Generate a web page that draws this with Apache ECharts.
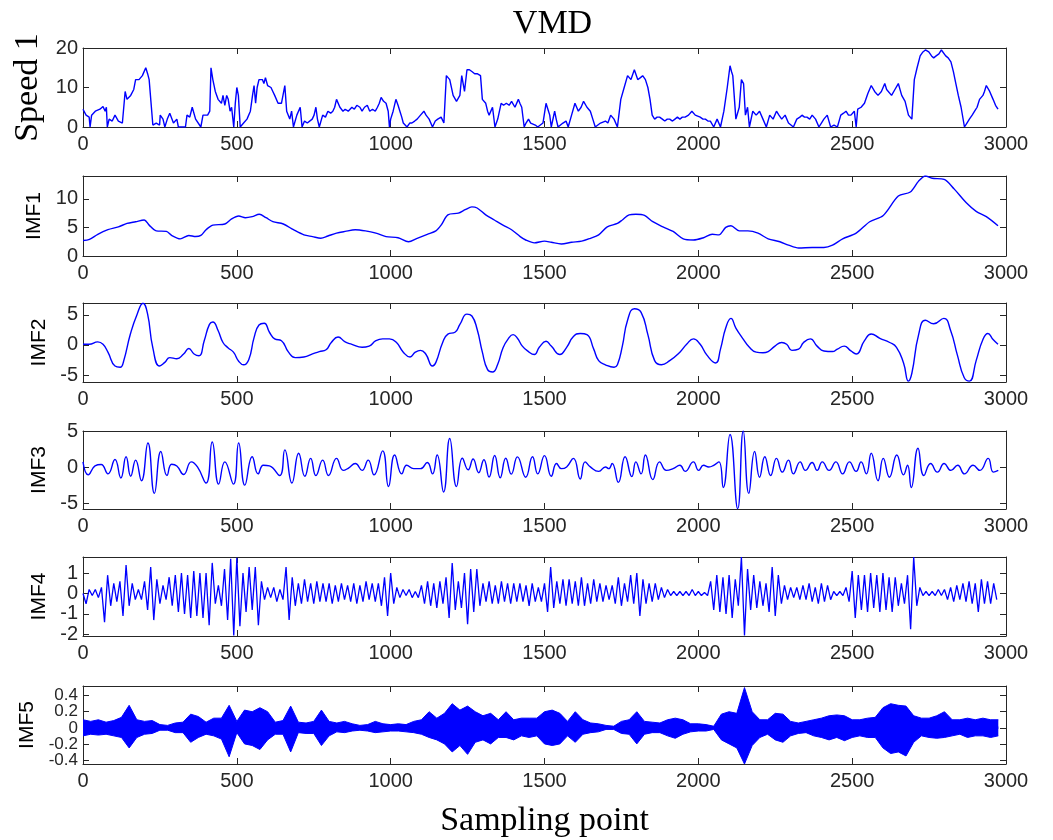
<!DOCTYPE html>
<html><head><meta charset="utf-8"><title>VMD</title>
<script src="https://cdn.jsdelivr.net/npm/echarts@6/dist/echarts.min.js"></script>
<style>html,body{margin:0;padding:0;background:#fff}#chart{width:1053px;height:840px}</style>
</head><body><div id="chart"></div>
<script>
// ---------- data ----------
const xTicks = [0, 500, 1000, 1500, 2000, 2500, 3000];
const speedTicks = [0, 10, 20];
const imf1Ticks = [0, 5, 10];
const imf2Ticks = [-5, 0, 5];
const imf3Ticks = [-5, 0, 5];
const imf4Ticks = [-2, -1, 0, 1];
const imf5Ticks = [-0.4, -0.2, 0, 0.2, 0.4];

const speed1 = [[0,4.5],[10,3],[20,2.5],[23,0],[28,3],[40,4],[55,4.5],[65,5.2],[72,4],[76,5],[79,0],[85,2],[95,1.5],[104,3],[115,1.5],[128,1],[137,9],[143,7],[155,8],[165,9.5],[171,12],[182,12],[193,13],[204,15],[210,13.5],[215,12],[221,12],[227,0.5],[238,1],[249,0.5],[251,3],[260,2],[266,0],[274,2],[282,3.5],[294,1],[305,2],[310,0],[333,0],[338,3],[347,2.5],[355,5],[366,2],[383,0],[390,3],[405,3],[412,4],[416,15],[422,12],[430,9],[439,7],[450,6],[455,8],[461,5.5],[467,8],[472,7],[478,4],[483,5],[490,0],[495,6],[500,10],[505,8],[511,0],[522,1],[533,2],[544,4],[551,8],[556,10.5],[561,6],[566,10],[572,12],[583,12],[588,11],[593,12.5],[600,10.5],[611,10],[617,9],[623,8],[634,6],[645,6],[650,8],[656,10.5],[662,4],[672,2],[678,4],[684,0],[695,3],[706,5],[712,0],[720,1.5],[729,1],[745,2],[751,3],[757,5],[762,2],[768,0],[779,3],[788,2.5],[796,4],[805,3.5],[812,4],[818,5],[824,7],[835,5],[845,4],[852,4.5],[862,4],[874,5],[882,4.5],[890,5.5],[900,5],[907,4],[915,5],[924,5.5],[932,4],[941,4.5],[950,4],[957,5],[963,6],[969,7.5],[977,6.5],[985,6],[992,4],[996,0],[1000,2],[1008,4],[1017,7],[1024,5.5],[1030,4],[1036,2.5],[1041,1],[1053,0],[1062,1],[1069,1],[1078,1.5],[1086,2],[1097,3],[1108,4],[1115,3],[1125,2],[1136,0],[1145,1.5],[1153,2],[1164,2.5],[1173,1],[1181,13],[1192,12],[1203,8],[1214,6.5],[1225,8],[1231,13],[1240,9],[1248,14.5],[1256,14.5],[1265,14],[1273,13.5],[1281,13.5],[1292,13],[1298,7],[1309,6],[1315,4],[1320,3],[1331,5],[1339,0],[1348,2],[1359,6],[1367,5.5],[1376,6],[1385,5.5],[1393,6.5],[1404,5],[1415,7],[1420,6],[1426,5],[1434,0],[1440,1],[1448,2],[1455,1],[1461,1],[1470,0.5],[1478,0],[1495,1],[1505,6],[1511,4.5],[1517,3],[1522,0],[1533,4],[1538,2],[1544,0],[1560,1],[1570,1.5],[1577,0],[1588,3],[1599,6],[1610,4],[1619,5],[1627,6.5],[1638,5],[1649,4],[1657,2],[1665,0],[1682,1],[1698,1.5],[1706,1],[1715,3],[1726,2],[1737,0],[1748,7],[1759,10],[1770,13],[1781,12],[1792,14.5],[1803,12],[1812,12.5],[1819,13],[1828,12],[1836,10],[1843,7],[1850,3],[1858,2],[1866,2.5],[1874,2.5],[1883,2],[1891,1.5],[1899,2],[1907,2],[1916,1.5],[1924,2],[1932,2.5],[1940,2],[1948,2.5],[1957,2.5],[1968,3],[1979,4],[1990,3],[2006,2.5],[2015,2],[2023,2],[2031,1.5],[2039,1.5],[2050,0],[2061,2],[2072,0],[2083,4],[2094,10],[2103,15.5],[2108,14],[2112,13],[2122,2],[2133,5],[2140,12],[2147,11],[2153,3],[2160,5],[2166,0],[2177,4],[2188,3],[2199,4],[2210,2],[2221,0],[2232,3],[2243,2],[2254,4],[2262,3],[2271,2],[2282,3],[2293,1],[2309,0],[2320,2],[2330,2.5],[2337,3],[2345,2.5],[2353,2.5],[2362,2],[2370,3],[2381,2],[2392,0],[2400,1],[2408,2],[2419,3],[2430,0],[2441,0.5],[2452,0],[2463,3],[2472,3.5],[2480,4],[2488,3],[2496,3],[2507,4],[2513,0],[2518,4.5],[2529,5],[2540,6],[2551,8.5],[2562,10.5],[2573,9],[2584,8],[2595,9],[2606,11],[2612,9.5],[2617,9],[2628,8],[2639,9.5],[2650,11],[2661,8],[2672,6.5],[2683,3],[2694,2],[2702,12],[2711,15],[2721,18],[2730,19],[2738,19.5],[2749,19],[2758,18],[2765,17.5],[2773,18],[2782,18.5],[2790,19.5],[2796,20],[2804,18],[2812,17.5],[2821,16.5],[2829,14],[2837,11],[2845,8],[2854,5],[2865,0],[2873,1],[2881,2],[2890,3],[2898,4],[2906,5],[2914,7],[2925,8],[2930,9],[2936,10.5],[2947,9],[2958,7],[2966,5.5],[2974,4.5]];

const imf1 = [[0,2.7],[21,2.9],[48,3.8],[81,4.6],[115,5.1],[143,5.7],[171,6.0],[199,6.3],[215,5.4],[238,4.4],[271,4.3],[288,3.6],[316,3.0],[344,3.6],[366,3.4],[383,3.6],[400,4.6],[422,5.4],[461,5.6],[483,6.5],[506,7.0],[528,6.7],[550,6.9],[573,7.3],[595,6.7],[617,6.0],[651,5.6],[684,4.6],[718,3.7],[746,3.4],[773,3.1],[796,3.5],[824,4.0],[852,4.3],[885,4.6],[918,4.4],[952,4.0],[985,3.4],[1024,3.2],[1058,2.5],[1086,3.1],[1119,3.8],[1147,4.4],[1164,5.4],[1186,7.2],[1220,7.5],[1242,8.1],[1264,8.6],[1281,8.4],[1309,7.2],[1337,6.3],[1365,5.4],[1393,4.6],[1421,3.4],[1439,2.8],[1467,2.3],[1500,2.6],[1522,2.4],[1555,2.1],[1588,2.4],[1621,2.6],[1649,3.1],[1676,3.7],[1704,5.1],[1737,5.7],[1753,6.3],[1775,7.2],[1797,7.3],[1825,7.1],[1852,6.0],[1885,5.1],[1918,4.3],[1951,3.0],[1984,2.8],[2017,3.2],[2045,3.8],[2067,3.7],[2089,5.0],[2106,5.3],[2133,4.4],[2161,4.4],[2194,4.0],[2227,3.0],[2265,2.5],[2293,1.9],[2326,1.4],[2370,1.5],[2408,1.5],[2436,1.9],[2469,3.0],[2513,4.0],[2557,6.0],[2601,7.1],[2650,10.5],[2689,11.2],[2716,13.1],[2738,14.0],[2760,13.6],[2799,13.4],[2832,11.7],[2871,9.3],[2903,7.8],[2936,6.9],[2974,5.3]];

const imf2 = [[0,0.1],[20,0.1],[48,0.5],[65,0.1],[81,-1.2],[104,-3.5],[121,-3.7],[132,-2.7],[154,1.8],[176,5.1],[195,6.9],[210,5.1],[227,-0.5],[249,-3.5],[266,-2.9],[282,-2.1],[305,-2.3],[327,-1.5],[344,-0.6],[361,-1.5],[377,-1.8],[394,0.7],[411,3.4],[422,3.8],[439,2.4],[455,0.4],[472,-0.5],[489,-1.2],[506,-2.7],[522,-3.3],[539,-2.4],[556,1.2],[572,3.3],[589,3.6],[606,2.1],[623,1.0],[645,0.7],[668,-1.2],[690,-2.1],[718,-2.0],[746,-1.5],[768,-1.1],[790,-0.8],[807,0.4],[829,1.3],[852,0.5],[874,0.1],[907,-0.4],[930,-0.2],[952,0.7],[974,1.0],[996,1.0],[1019,0.4],[1041,-1.2],[1063,-2.0],[1080,-1.2],[1097,-0.9],[1114,-1.5],[1136,-3.5],[1147,-2.9],[1169,0.4],[1186,1.8],[1209,2.1],[1225,3.4],[1248,5.1],[1264,4.8],[1281,2.6],[1298,-1.2],[1315,-4.1],[1331,-4.5],[1348,-3.2],[1365,-0.5],[1382,1.0],[1398,1.7],[1412,1.1],[1428,-0.2],[1445,-1.0],[1467,-1.6],[1483,-0.4],[1505,0.6],[1522,-0.2],[1550,-1.6],[1572,-0.4],[1594,1.4],[1616,1.9],[1638,1.7],[1660,-0.7],[1676,-2.6],[1698,-3.3],[1726,-3.7],[1737,-3.3],[1753,-0.2],[1770,4.1],[1792,6.0],[1814,5.4],[1836,1.7],[1858,-2.6],[1880,-3.3],[1907,-2.6],[1940,-1.2],[1962,0.1],[1984,1.0],[2006,0.1],[2028,-1.7],[2056,-3.0],[2072,-0.7],[2089,2.8],[2106,4.4],[2122,2.8],[2144,1.1],[2166,-0.4],[2188,-1.2],[2210,-1.3],[2227,-1.1],[2249,-0.2],[2271,0.4],[2287,0.1],[2304,-0.9],[2326,-0.7],[2342,0.4],[2364,1.0],[2386,-0.2],[2408,-1.0],[2436,-1.1],[2452,-0.7],[2474,-0.2],[2496,-1.0],[2513,-1.5],[2540,0.7],[2562,1.8],[2590,1.1],[2622,0.4],[2644,-0.4],[2667,-3.0],[2683,-6.0],[2694,-4.7],[2716,1.7],[2738,4.1],[2765,3.5],[2798,4.4],[2820,2.4],[2842,-1.7],[2864,-5.4],[2881,-6.0],[2903,-2.6],[2925,0.9],[2941,1.9],[2958,0.9],[2974,0.1]];

const imf3 = [[0,0.8],[17,-1.0],[39,0.24],[59,0.43],[81,-0.86],[104,1.14],[123,-1.43],[140,1.52],[155,-1.19],[171,1.05],[190,-1.81],[211,3.43],[232,-3.57],[253,2.24],[273,-1.1],[288,0.48],[305,0.24],[327,-0.95],[352,0.81],[372,0.1],[400,-2.14],[420,3.57],[441,-2.29],[461,0.81],[489,-2.29],[506,3.43],[526,-2.43],[550,1.52],[569,-0.86],[586,0.33],[606,0.24],[639,-1.1],[656,2.48],[679,-2.14],[701,2.0],[721,-1.19],[740,1.29],[757,-1.1],[779,1.05],[798,-1.1],[824,1.29],[846,-0.38],[863,-0.05],[885,0.57],[907,-0.38],[927,1.05],[946,-1.0],[974,2.33],[993,-2.62],[1013,1.76],[1036,-0.86],[1052,0.33],[1075,-0.14],[1097,-0.14],[1119,0.71],[1136,-0.86],[1151,1.76],[1172,-3.38],[1192,4.05],[1214,-2.62],[1233,1.3],[1252,-0.3],[1268,1.2],[1286,-0.7],[1303,1.1],[1320,-1.3],[1338,1.7],[1356,-1.4],[1374,1.3],[1392,-0.9],[1412,1.5],[1439,-1.33],[1461,1.52],[1478,-0.86],[1500,1.67],[1522,-1.19],[1539,0.57],[1555,-0.14],[1572,0.1],[1594,1.29],[1616,-1.57],[1632,0.81],[1649,0.1],[1676,-0.52],[1698,0.1],[1709,-0.14],[1720,0.57],[1740,-2.05],[1762,1.52],[1784,-1.24],[1797,0.81],[1814,-0.86],[1828,1.76],[1852,-1.67],[1874,0.81],[1896,-0.38],[1918,-0.14],[1940,0.33],[1957,-0.52],[1984,0.81],[2001,-0.38],[2017,0.33],[2034,0.1],[2050,0.33],[2067,0.81],[2081,-2.76],[2103,4.62],[2128,-5.7],[2146,5.1],[2164,-3.57],[2183,2.24],[2199,-1.33],[2216,1.52],[2235,-1.1],[2254,1.29],[2273,-0.62],[2293,1.05],[2309,-0.86],[2331,0.81],[2348,-0.38],[2370,0.71],[2386,-0.38],[2403,0.81],[2425,-0.38],[2447,0.81],[2469,-0.86],[2491,0.81],[2513,-0.52],[2529,0.81],[2546,-0.86],[2562,2.0],[2584,-1.81],[2601,1.29],[2621,-1.33],[2645,1.76],[2667,-1.0],[2680,0.33],[2692,-2.76],[2714,2.71],[2733,-1.1],[2755,0.57],[2777,-0.62],[2799,0.57],[2821,-0.38],[2843,0.33],[2865,-0.86],[2893,0.33],[2915,-0.38],[2942,1.29],[2959,-0.62],[2975,-0.38]];

// IMF4: one value every imf4Step samples, starting at sample 0
const imf4Step = 10;
const imf4 = [
 0,-0.5,0.2,-0.1,0.2,-0.2,0.3,-1.4,0.9,-0.6,
 0.5,-0.4,0.6,-1.1,1.4,-0.6,0.5,-0.3,0.2,-0.3,
 0.6,-0.8,1.3,-1.3,0.7,-0.5,0.4,-0.3,0.8,-0.6,
 0.9,-0.9,1.0,-1.0,0.9,-1.2,1.1,-1.1,1.0,-1.2,
 1.0,-1.55,1.5,-0.5,0.4,-0.6,1.2,-1.3,1.7,-2.05,
 1.75,-1.6,1.0,-0.9,1.3,-0.8,1.3,-1.55,0.6,-0.3,
 0.3,-0.2,0.3,-0.4,0.2,-0.3,1.3,-1.3,0.8,-0.6,
 0.5,-0.5,0.7,-0.4,0.5,-0.5,0.6,-0.4,0.5,-0.4,
 0.5,-0.5,0.4,-0.4,0.5,-0.3,0.4,-0.4,0.5,-0.5,
 0.4,-0.4,0.6,-0.3,0.5,-0.4,0.5,-0.6,0.8,-1.1,
 1.0,-0.5,0.3,-0.2,0.2,-0.1,0.2,-0.2,0.1,-0.2,
 0.4,-0.5,0.6,-0.6,0.5,-0.7,0.6,-0.5,0.8,-1.2,
 1.5,-0.8,0.6,-0.7,1.0,-1.5,1.2,-0.9,1.2,-0.6,
 0.5,-0.4,0.6,-0.5,0.4,-0.5,0.6,-0.4,0.5,-0.5,
 0.5,-0.4,0.5,-0.4,0.4,-0.6,0.5,-0.4,0.3,-0.4,
 0.5,-0.9,1.3,-0.7,0.6,-0.5,0.7,-0.6,0.7,-0.5,
 0.6,-0.6,0.8,-0.6,0.5,-0.5,0.7,-0.4,0.5,-0.4,
 0.4,-0.3,0.4,-0.5,0.8,-0.6,0.5,-0.4,0.9,-0.5,
 1.0,-1.1,0.7,-0.5,0.5,-0.4,0.5,-0.3,0.3,-0.2,
 0.2,-0.1,0.1,-0.1,0.1,-0.1,0.1,-0.1,0.2,-0.1,
 0.1,-0.1,0.05,-0.1,0.6,-0.8,0.9,-0.9,0.8,-1.0,
 0.9,-1.2,0.7,-0.6,1.79,-2.05,1.2,-0.8,0.9,-0.7,
 0.6,-0.6,0.5,-0.9,1.3,-1.1,0.9,-0.5,0.4,-0.3,
 0.3,-0.2,0.3,-0.3,0.4,-0.3,0.5,-0.4,0.3,-0.5,
 0.5,-0.4,0.4,-0.3,0.1,-0.1,0.1,-0.1,0.3,-0.4,
 1.1,-1.2,0.9,-0.8,0.9,-0.9,1.0,-0.7,0.9,-0.9,
 1.0,-0.8,0.8,-0.9,0.8,-0.6,0.5,-0.5,0.9,-1.75,
 1.79,-0.6,0.3,-0.1,0.1,-0.1,0.1,-0.1,0.2,-0.1,
 0.2,-0.3,0.3,-0.4,0.4,-0.3,0.5,-0.4,0.6,-0.5,
 0.5,-0.9,0.7,-0.5,0.6,-0.5,0.5,-0.3];

// IMF5: upper and lower envelope, one value every imf5Step samples
const imf5Step = 25;
const imf5Upper = [
 0.1,0.08,0.1,0.07,0.09,0.13,0.28,0.1,0.08,0.09,0.04,0.03,
 0.06,0.07,0.17,0.14,0.07,0.12,0.12,0.28,0.08,0.22,0.2,0.25,
 0.2,0.07,0.09,0.27,0.07,0.06,0.08,0.22,0.08,0.06,0.08,0.05,
 0.03,0.04,0.08,0.05,0.04,0.05,0.04,0.08,0.1,0.2,0.12,0.18,
 0.3,0.22,0.27,0.2,0.15,0.18,0.1,0.2,0.1,0.12,0.12,0.12,
 0.2,0.22,0.18,0.08,0.2,0.1,0.06,0.05,0.03,0.02,0.08,0.1,
 0.2,0.08,0.07,0.06,0.1,0.12,0.1,0.05,0.05,0.04,0.02,0.17,
 0.2,0.18,0.5,0.2,0.1,0.1,0.18,0.17,0.08,0.06,0.08,0.1,
 0.12,0.15,0.16,0.15,0.1,0.1,0.12,0.13,0.25,0.3,0.28,0.27,
 0.15,0.12,0.12,0.15,0.2,0.1,0.1,0.12,0.1,0.12,0.1,0.1];
const imf5Lower = [
 -0.1,-0.08,-0.09,-0.08,-0.1,-0.12,-0.25,-0.12,-0.08,-0.07,-0.03,-0.03,
 -0.06,-0.06,-0.18,-0.12,-0.08,-0.1,-0.14,-0.36,-0.06,-0.2,-0.22,-0.27,
 -0.15,-0.08,-0.08,-0.3,-0.06,-0.07,-0.07,-0.22,-0.1,-0.05,-0.06,-0.04,
 -0.03,-0.04,-0.06,-0.05,-0.04,-0.04,-0.05,-0.06,-0.08,-0.12,-0.15,-0.2,
 -0.3,-0.22,-0.33,-0.18,-0.15,-0.2,-0.12,-0.12,-0.15,-0.1,-0.12,-0.1,
 -0.2,-0.22,-0.2,-0.1,-0.18,-0.08,-0.06,-0.05,-0.02,-0.02,-0.07,-0.08,
 -0.2,-0.08,-0.06,-0.06,-0.1,-0.13,-0.08,-0.05,-0.04,-0.04,-0.02,-0.15,
 -0.2,-0.25,-0.45,-0.22,-0.12,-0.08,-0.15,-0.18,-0.1,-0.07,-0.06,-0.1,
 -0.12,-0.15,-0.12,-0.16,-0.12,-0.1,-0.12,-0.12,-0.25,-0.32,-0.3,-0.35,
 -0.18,-0.1,-0.12,-0.13,-0.12,-0.1,-0.08,-0.12,-0.1,-0.1,-0.12,-0.1];

// ---------- layout & style ----------
const SANS = '"Liberation Sans", Arial, sans-serif';
const SERIF = '"Liberation Serif", "Times New Roman", serif';
const AX = '#262626';
const BLUE = '#0000ff';
const GRID_LEFT = 83, GRID_RIGHT = 47;
const TICK_FONT = 20;
const panels = [
  {name:'Speed 1', serif:true, top:48, height:79, min:0, max:20, ticks:speedTicks, gap:18},
  {name:'IMF1', top:176, height:80, min:0, max:14, ticks:imf1Ticks, gap:31},
  {name:'IMF2', top:303, height:79, min:-6.15, max:6.95, ticks:imf2Ticks, gap:31},
  {name:'IMF3', top:431, height:78, min:-5.75, max:5.1, ticks:imf3Ticks, gap:31},
  {name:'IMF4', top:557, height:79, min:-2.08, max:1.79, ticks:imf4Ticks, gap:31},
  {name:'IMF5', top:686, height:78, min:-0.45, max:0.52, ticks:imf5Ticks, gap:44, tickFont:17, splitLabels:true}
];

const grids = [], xAxes = [], yAxes = [], series = [];
const xIdx = [], yIdx = [];
const tickStyle = {show:true, inside:true, length:6, lineStyle:{color:AX, width:1}};
const plain = v => String(Math.round(v * 1000) / 1000);
panels.forEach((p, i) => {
  grids.push({left:GRID_LEFT, right:GRID_RIGHT, top:p.top, height:p.height, containLabel:false});
  const last = i === panels.length - 1;
  xIdx.push(xAxes.length);
  xAxes.push({
    type:'value', gridIndex:i, position:'bottom', min:xTicks[0], max:xTicks[xTicks.length-1], interval:xTicks[1]-xTicks[0],
    axisLine:{show:true, onZero:false, lineStyle:{color:AX, width:1}},
    axisTick:tickStyle, splitLine:{show:false},
    axisLabel:{color:AX, fontSize:TICK_FONT, fontFamily:SANS, margin:7, formatter:plain, hideOverlap:false, showMinLabel:true, showMaxLabel:true},
    name: last ? 'Sampling point' : '', nameLocation:'middle', nameGap:40,
    nameTextStyle:{fontFamily:SERIF, fontSize:34, color:'#000'}
  });
  xAxes.push({
    type:'value', gridIndex:i, position:'top', min:xTicks[0], max:xTicks[xTicks.length-1], interval:xTicks[1]-xTicks[0],
    axisLine:{show:true, onZero:false, lineStyle:{color:AX, width:1}},
    axisTick:tickStyle, axisLabel:{show:false}, splitLine:{show:false}
  });
  const tf = p.tickFont || TICK_FONT;
  // labels: alternate labels go on a second (line-less) left axis so none get dropped
  const labA = p.splitLabels ? p.ticks.filter((_, k) => k % 2 === 0) : p.ticks;
  const labB = p.splitLabels ? p.ticks.filter((_, k) => k % 2 === 1) : null;
  const labelStyle = {interval:0, color:AX, fontSize:tf, fontFamily:SANS, margin:5, formatter:plain,
                      hideOverlap:false, showMinLabel:true, showMaxLabel:true};
  yIdx.push(yAxes.length);
  yAxes.push({
    type:'value', gridIndex:i, position:'left', min:p.min, max:p.max,
    axisLine:{show:true, onZero:false, lineStyle:{color:AX, width:1}},
    axisTick:Object.assign({customValues:p.ticks}, tickStyle),
    axisLabel:Object.assign({customValues:labA}, labelStyle),
    splitLine:{show:false},
    name:p.name, nameLocation:'middle', nameRotate:90, nameGap:p.gap,
    nameTextStyle: p.serif ? {fontFamily:SERIF, fontSize:34, color:'#000'} : {fontFamily:SANS, fontSize:21, color:'#000'}
  });
  yAxes.push({
    type:'value', gridIndex:i, position:'right', min:p.min, max:p.max,
    axisLine:{show:true, onZero:false, lineStyle:{color:AX, width:1}},
    axisTick:Object.assign({customValues:p.ticks}, tickStyle),
    axisLabel:{show:false}, splitLine:{show:false}
  });
  if (labB) {
    yAxes.push({
      type:'value', gridIndex:i, position:'left', offset:0, min:p.min, max:p.max,
      axisLine:{show:false}, axisTick:{show:false}, splitLine:{show:false},
      axisLabel:Object.assign({customValues:labB}, labelStyle)
    });
  }
});

function lineSeries(i, data, extra) {
  return Object.assign({
    type:'line', xAxisIndex:xIdx[i], yAxisIndex:yIdx[i], data:data,
    symbol:'none', showSymbol:false, animation:false, clip:true,
    lineStyle:{color:BLUE, width:1.4}
  }, extra || {});
}
series.push(lineSeries(0, speed1));
series.push(lineSeries(1, imf1, {smooth:0.3}));
series.push(lineSeries(2, imf2, {smooth:0.5}));
series.push(lineSeries(3, imf3, {smooth:0.5}));
series.push(lineSeries(4, imf4.map((v, k) => [k * imf4Step, v]), {lineStyle:{color:BLUE, width:1.3}}));
// IMF5 band: upper envelope filled down past zero, lower envelope filled up past zero (overlap hides the seam)
series.push(lineSeries(5, imf5Upper.map((v, k) => [k * imf5Step, v]), {lineStyle:{color:BLUE, width:1}, areaStyle:{color:BLUE, opacity:1, origin:-0.015}}));
series.push(lineSeries(5, imf5Lower.map((v, k) => [k * imf5Step, v]), {lineStyle:{color:BLUE, width:1}, areaStyle:{color:BLUE, opacity:1, origin:0.015}}));

const chart = echarts.init(document.getElementById('chart'), null, {renderer:'canvas'});
chart.setOption({
  animation:false,
  backgroundColor:'#fff',
  title:{text:'VMD', left:GRID_LEFT + (1053 - GRID_LEFT - GRID_RIGHT) / 2 + 3, textAlign:'center', top:2,
         textStyle:{fontFamily:SERIF, fontSize:34, fontWeight:'normal', color:'#000'}},
  grid:grids, xAxis:xAxes, yAxis:yAxes, series:series
});
</script></body></html>
